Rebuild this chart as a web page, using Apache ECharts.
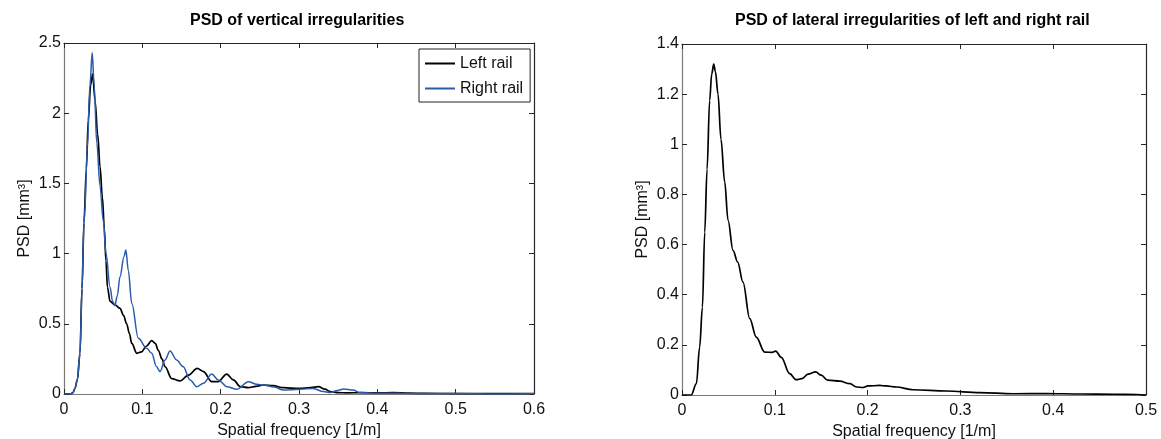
<!DOCTYPE html>
<html>
<head>
<meta charset="utf-8">
<script src="https://cdn.jsdelivr.net/npm/echarts@6/dist/echarts.min.js"></script>
<style>html,body{margin:0;padding:0;background:#fff;}#c{width:1161px;height:439px;}</style>
</head>
<body>
<div id="c"></div>
<script>
// ---- Data ----
const titleLeft = 'PSD of vertical irregularities';
const titleRight = 'PSD of lateral irregularities of left and right rail';
const xName = 'Spatial frequency [1/m]';
const yName = 'PSD [mm³]';
const legendNames = ['Left rail', 'Right rail'];

// Left chart – Left rail (black)
const leftRailF = [0,0.008,0.0115,0.014,0.017,0.0204,0.023,0.0255,0.0285,0.031,0.034,0.0366,0.0396,0.043,0.046,0.049,0.0515,0.0535,0.0555,0.0588,0.065,0.0715,0.076,0.080,0.0835,0.0865,0.093,0.099,0.105,0.112,0.1165,0.1205,0.125,0.129,0.1375,0.148,0.159,0.170,0.178,0.1886,0.197,0.2077,0.2163,0.225,0.2355,0.245,0.2545,0.267,0.280,0.300,0.315,0.325,0.333,0.340,0.350,0.361,0.38,0.40,0.42,0.44,0.46,0.50,0.55,0.6];
const leftRailPSD = [0,0,0.01,0.04,0.10,0.29,0.75,1.22,1.6,1.95,2.2,2.28,2.09,1.85,1.62,1.4,1.18,0.95,0.76,0.66,0.635,0.61,0.56,0.50,0.43,0.36,0.29,0.30,0.34,0.38,0.36,0.31,0.25,0.195,0.11,0.093,0.135,0.183,0.16,0.088,0.088,0.142,0.10,0.052,0.045,0.055,0.064,0.059,0.045,0.04,0.045,0.052,0.035,0.017,0.01,0.008,0.01,0.008,0.01,0.006,0.004,0.003,0.002,0.002];

// Left chart – Right rail (blue)
const rightRailF = [0,0.008,0.0115,0.014,0.017,0.0204,0.023,0.0255,0.0264,0.0298,0.0332,0.036,0.0385,0.0418,0.046,0.050,0.0536,0.0588,0.062,0.065,0.068,0.0715,0.0766,0.079,0.0821,0.0865,0.0949,0.1056,0.112,0.118,0.1226,0.129,0.1354,0.1438,0.152,0.161,0.1695,0.178,0.1886,0.197,0.208,0.2205,0.2355,0.246,0.255,0.268,0.280,0.301,0.318,0.331,0.34,0.349,0.357,0.369,0.378,0.40,0.43,0.46,0.50,0.55,0.6];
const rightRailPSD = [0,0,0.01,0.04,0.10,0.29,0.75,1.22,1.29,1.76,2.21,2.43,2.2,1.79,1.48,1.24,1.0,0.76,0.66,0.63,0.70,0.835,0.98,1.025,0.88,0.646,0.397,0.325,0.29,0.195,0.16,0.242,0.306,0.242,0.195,0.10,0.052,0.076,0.142,0.10,0.052,0.033,0.088,0.069,0.064,0.05,0.028,0.033,0.04,0.017,0.01,0.025,0.036,0.028,0.01,0.006,0.005,0.003,0.003,0.0,0.002];

// Right chart – lateral (black)
const lateralF = [0,0.010,0.0155,0.019,0.022,0.0245,0.027,0.0298,0.032,0.0342,0.036,0.0388,0.042,0.046,0.0496,0.055,0.060,0.0657,0.073,0.080,0.0891,0.097,0.101,0.107,0.116,0.123,0.129,0.1358,0.144,0.150,0.157,0.170,0.181,0.188,0.195,0.2004,0.213,0.22,0.231,0.249,0.285,0.3207,0.357,0.393,0.43,0.465,0.49,0.5];
const lateralPSD = [0,0,0.045,0.19,0.35,0.65,0.9,1.175,1.28,1.32,1.29,1.2,1.02,0.85,0.697,0.577,0.53,0.45,0.305,0.231,0.171,0.17,0.175,0.15,0.085,0.061,0.065,0.083,0.092,0.079,0.059,0.055,0.045,0.032,0.03,0.036,0.038,0.036,0.032,0.021,0.016,0.0095,0.005,0.006,0.004,0.003,0.002,0];

const zip = (a, b) => a.map((v, i) => [v, b[i]]);

const FONT = "'Liberation Sans', Arial, sans-serif";
const txt = '#111';
const axisDark = '#262626';
const axisGrey = '#7a7a7a';

function xAxes(gridIndex, max, interval) {
  return [
    {
      type: 'value', gridIndex, position: 'bottom', min: 0, max, interval,
      name: xName, nameLocation: 'middle', nameGap: 28,
      nameTextStyle: { fontFamily: FONT, fontSize: 16, color: txt },
      axisLine: { show: true, onZero: false, lineStyle: { color: axisGrey, width: 1.2 } },
      axisTick: { show: true, inside: true, length: 5, lineStyle: { color: axisDark } },
      axisLabel: { show: true, margin: 8, fontFamily: FONT, fontSize: 16, color: txt },
      splitLine: { show: false }
    },
    {
      type: 'value', gridIndex, position: 'top', min: 0, max, interval,
      axisLine: { show: true, onZero: false, lineStyle: { color: axisDark, width: 1.2 } },
      axisTick: { show: true, inside: true, length: 5, lineStyle: { color: axisDark } },
      axisLabel: { show: false },
      splitLine: { show: false }
    }
  ];
}
function yAxes(gridIndex, max, interval) {
  return [
    {
      type: 'value', gridIndex, position: 'left', min: 0, max, interval,
      name: yName, nameLocation: 'middle', nameGap: 31, nameRotate: 90,
      nameTextStyle: { fontFamily: FONT, fontSize: 16, color: txt },
      axisLine: { show: true, onZero: false, lineStyle: { color: axisGrey, width: 1.2 } },
      axisTick: { show: true, inside: true, length: 5, lineStyle: { color: axisDark } },
      axisLabel: { show: true, margin: 3, fontFamily: FONT, fontSize: 16, color: txt },
      splitLine: { show: false }
    },
    {
      type: 'value', gridIndex, position: 'right', min: 0, max, interval,
      axisLine: { show: true, onZero: false, lineStyle: { color: axisDark, width: 1.2 } },
      axisTick: { show: true, inside: true, length: 5, lineStyle: { color: axisDark } },
      axisLabel: { show: false },
      splitLine: { show: false }
    }
  ];
}

const chart = echarts.init(document.getElementById('c'), null, { renderer: 'canvas' });
chart.setOption({
  backgroundColor: '#fff',
  animation: false,
  title: [
    { text: titleLeft, left: 190, top: 13, padding: 0,
      textStyle: { fontFamily: FONT, fontSize: 16, fontWeight: 'bold', color: '#000' } },
    { text: titleRight, left: 735, top: 13, padding: 0,
      textStyle: { fontFamily: FONT, fontSize: 16, fontWeight: 'bold', color: '#000' } }
  ],
  legend: {
    data: legendNames,
    orient: 'vertical',
    left: 419, top: 49,
    padding: [5, 7, 4, 6],
    itemGap: 6,
    itemWidth: 30, itemHeight: 2,
    icon: 'rect',
    borderColor: '#222', borderWidth: 1,
    backgroundColor: '#fff',
    textStyle: { fontFamily: FONT, fontSize: 16, color: txt, lineHeight: 19 }
  },
  grid: [
    { left: 64, top: 43, width: 470, height: 351, outerBoundsMode: 'none', containLabel: false },
    { left: 682, top: 44, width: 464, height: 351, outerBoundsMode: 'none', containLabel: false }
  ],
  xAxis: [...xAxes(0, 0.6, 0.1), ...xAxes(1, 0.5, 0.1)],
  yAxis: [...yAxes(0, 2.5, 0.5), ...yAxes(1, 1.4, 0.2)],
  series: [
    { name: legendNames[0], type: 'line', xAxisIndex: 0, yAxisIndex: 0,
      data: zip(leftRailF, leftRailPSD), symbol: 'none', smooth: 0.35, smoothMonotone: 'x',
      lineStyle: { color: '#000', width: 1.7 }, itemStyle: { color: '#000' }, z: 3 },
    { name: legendNames[1], type: 'line', xAxisIndex: 0, yAxisIndex: 0,
      data: zip(rightRailF, rightRailPSD), symbol: 'none', smooth: 0.35, smoothMonotone: 'x',
      lineStyle: { color: '#2a5caa', width: 1.5 }, itemStyle: { color: '#2a5caa' }, z: 4 },
    { name: 'Lateral', type: 'line', xAxisIndex: 2, yAxisIndex: 2,
      data: zip(lateralF, lateralPSD), symbol: 'none', smooth: 0.35, smoothMonotone: 'x',
      lineStyle: { color: '#000', width: 1.7 }, itemStyle: { color: '#000' } }
  ]
});
</script>
</body>
</html>
